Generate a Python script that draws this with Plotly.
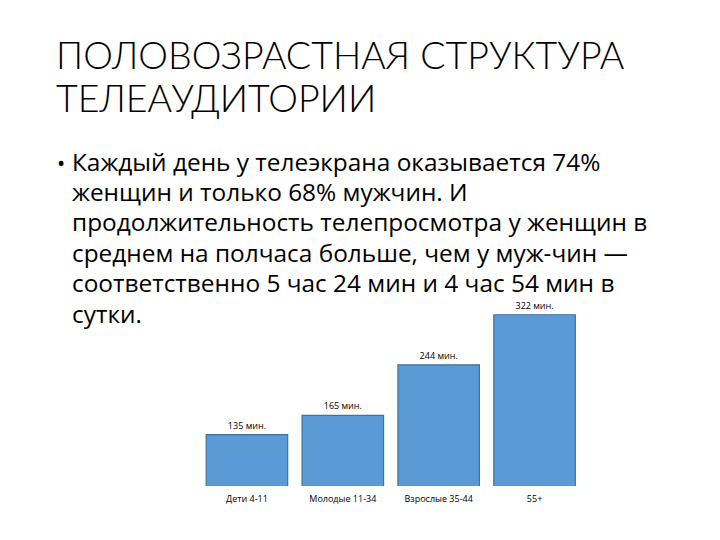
import plotly.graph_objects as go

# --- données ---
groupes = ["Дети 4-11", "Молодые 11-34", "Взрослые 35-44", "55+"]
minutes = [135, 165, 244, 322]
etiquettes = [f"{m} мин." for m in minutes]

titre = ["ПОЛОВОЗРАСТНАЯ СТРУКТУРА", "ТЕЛЕАУДИТОРИИ"]
texte = [
    "Каждый день у телеэкрана оказывается 74%",
    "женщин и только 68% мужчин. И",
    "продолжительность телепросмотра у женщин в",
    "среднем на полчаса больше, чем у муж-чин —",
    "соответственно 5 час 24 мин и 4 час 54 мин в",
    "сутки.",
]

W, H = 720, 540
OFF = 8  # marge par défaut du <body>
FONT_TITRE = "Lato, 'Open Sans', sans-serif"
FONT = "'Open Sans', 'Noto Sans', sans-serif"


def px_x(x):
    return (x - OFF) / W


def px_y(y):
    return 1 - (y - OFF) / H


fig = go.Figure()
fig.add_trace(go.Bar(
    x=groupes, y=minutes, text=etiquettes,
    textposition="outside", cliponaxis=False,
    textfont=dict(size=9, color="#000000", family=FONT),
    marker=dict(color="#5b9bd5", line=dict(color="#41719c", width=1.2)),
    width=0.85,
))

annotations = []
for i, ligne in enumerate(titre):
    annotations.append(dict(
        x=px_x(54), y=px_y(55 + i * 43), xref="paper", yref="paper",
        xanchor="left", yanchor="middle", showarrow=False, text=ligne,
        font=dict(size=37.5, color="#000000", family=FONT_TITRE, weight=300),
    ))
annotations.append(dict(
    x=px_x(55), y=px_y(162), xref="paper", yref="paper",
    xanchor="left", yanchor="middle", showarrow=False, text="•",
    font=dict(size=22, color="#000000", family=FONT),
))
for i, ligne in enumerate(texte):
    annotations.append(dict(
        x=px_x(70), y=px_y(161 + i * 30.4), xref="paper", yref="paper",
        xanchor="left", yanchor="middle", showarrow=False, text=ligne,
        font=dict(size=24.4, color="#000000", family=FONT),
    ))

fig.update_layout(
    width=W, height=H,
    margin=dict(l=0, r=0, t=0, b=0),
    paper_bgcolor="#ffffff", plot_bgcolor="#ffffff",
    showlegend=False,
    annotations=annotations,
    xaxis=dict(domain=[px_x(199), px_x(582.5)], showgrid=False, showline=False,
               ticks="", ticklabelstandoff=6,
               tickfont=dict(size=9, color="#000000", family=FONT)),
    yaxis=dict(domain=[px_y(486), px_y(300)], range=[55, 345], visible=False),
    bargap=0.15,
)

fig.write_html("out.html")
